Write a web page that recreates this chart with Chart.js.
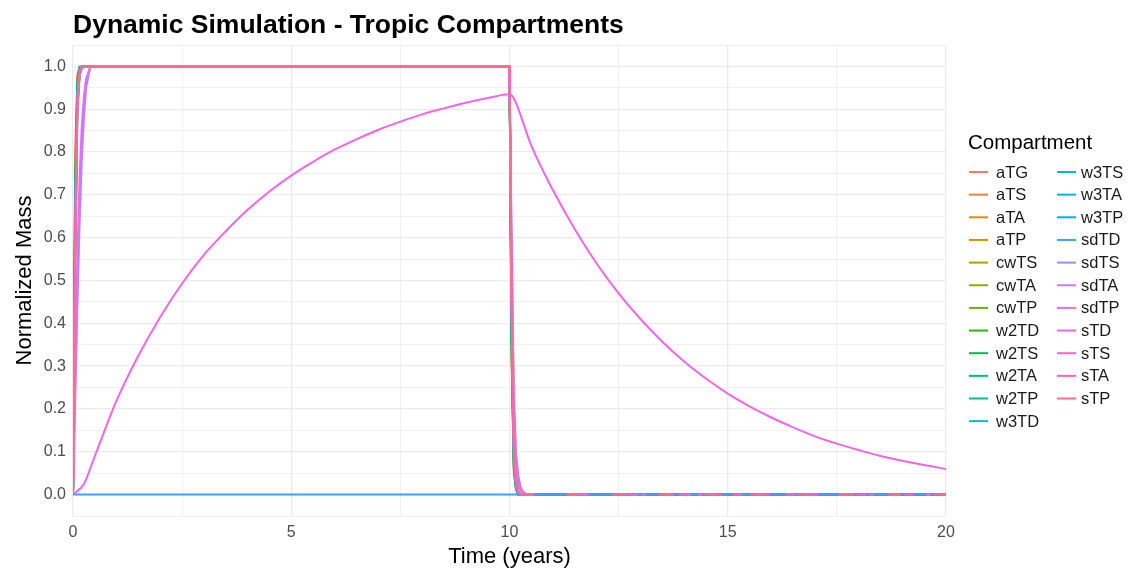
<!DOCTYPE html>
<html>
<head>
<meta charset="utf-8">
<script src="https://cdn.jsdelivr.net/npm/chart.js@4.4.0/dist/chart.umd.min.js"></script>
<style>
    html, body { margin: 0; padding: 0; background: #fff; }
    #wrap { width: 1134px; height: 570px; position: relative; }
</style>
</head>
<body>
<div id="wrap"><canvas id="simChart"></canvas></div>
<script>
// Compartiments (ordre de la légende)
const compartments = ['aTG', 'aTS', 'aTA', 'aTP', 'cwTS', 'cwTA', 'cwTP', 'w2TD', 'w2TS', 'w2TA', 'w2TP', 'w3TD',
    'w3TS', 'w3TA', 'w3TP', 'sdTD', 'sdTS', 'sdTA', 'sdTP', 'sTD', 'sTS', 'sTA', 'sTP'];

// Temps pour les compartiments rapides (années)
const fastTime = [0, 0.05, 0.1, 0.15, 0.2, 0.25, 0.3, 0.4, 10, 10.05, 10.1, 10.15, 10.2, 10.25, 10.3, 10.4, 20];

const aTG  = [0, 0.80, 0.98, 1, 1, 1, 1, 1, 1, 0.30, 0.05, 0.01, 0, 0, 0, 0, 0];
const aTS  = [0, 0.72, 0.96, 0.995, 1, 1, 1, 1, 1, 0.34, 0.07, 0.015, 0, 0, 0, 0, 0];
const aTA  = [0, 0.66, 0.94, 0.99, 1, 1, 1, 1, 1, 0.38, 0.08, 0.02, 0.005, 0, 0, 0, 0];
const aTP  = [0, 0.62, 0.93, 0.99, 1, 1, 1, 1, 1, 0.40, 0.09, 0.02, 0.005, 0, 0, 0, 0];
const cwTS = [0, 0.60, 0.92, 0.985, 0.998, 1, 1, 1, 1, 0.42, 0.10, 0.025, 0.006, 0, 0, 0, 0];
const cwTA = [0, 0.58, 0.91, 0.98, 0.997, 1, 1, 1, 1, 0.44, 0.11, 0.03, 0.007, 0, 0, 0, 0];
const cwTP = [0, 0.55, 0.90, 0.98, 0.996, 1, 1, 1, 1, 0.46, 0.12, 0.03, 0.008, 0, 0, 0, 0];
const w2TD = [0, 0.74, 0.97, 0.998, 1, 1, 1, 1, 1, 0.32, 0.06, 0.012, 0, 0, 0, 0, 0];
const w2TS = [0, 0.68, 0.95, 0.995, 1, 1, 1, 1, 1, 0.36, 0.07, 0.015, 0.003, 0, 0, 0, 0];
const w2TA = [0, 0.64, 0.94, 0.99, 1, 1, 1, 1, 1, 0.39, 0.08, 0.02, 0.004, 0, 0, 0, 0];
const w2TP = [0, 0.61, 0.93, 0.99, 1, 1, 1, 1, 1, 0.41, 0.09, 0.022, 0.005, 0, 0, 0, 0];
const w3TD = [0, 0.70, 0.96, 0.997, 1, 1, 1, 1, 1, 0.33, 0.06, 0.013, 0, 0, 0, 0, 0];
const w3TS = [0, 0.63, 0.93, 0.99, 1, 1, 1, 1, 1, 0.40, 0.09, 0.02, 0.005, 0, 0, 0, 0];
const w3TA = [0, 0.59, 0.91, 0.985, 0.997, 1, 1, 1, 1, 0.43, 0.10, 0.026, 0.006, 0, 0, 0, 0];
const w3TP = [0, 0.56, 0.90, 0.98, 0.996, 1, 1, 1, 1, 0.45, 0.11, 0.03, 0.007, 0, 0, 0, 0];
const sdTD = [0, 0, 0, 0, 0, 0, 0, 0, 0, 0, 0, 0, 0, 0, 0, 0, 0];
const sdTS = [0, 0.25, 0.48, 0.68, 0.82, 0.91, 0.97, 1, 1, 0.55, 0.20, 0.08, 0.035, 0.015, 0.005, 0, 0];
const sdTA = [0, 0.22, 0.44, 0.63, 0.78, 0.88, 0.95, 1, 1, 0.60, 0.24, 0.10, 0.045, 0.02, 0.008, 0, 0];
const sdTP = [0, 0.30, 0.55, 0.74, 0.86, 0.93, 0.97, 1, 1, 0.50, 0.17, 0.06, 0.025, 0.01, 0.004, 0, 0];
const sTS  = [0, 0.63, 0.93, 0.99, 1, 1, 1, 1, 1, 0.40, 0.09, 0.02, 0.005, 0, 0, 0, 0];
const sTA  = [0, 0.58, 0.91, 0.985, 0.997, 1, 1, 1, 1, 0.43, 0.10, 0.025, 0.006, 0, 0, 0, 0];
const sTP  = [0, 0.54, 0.89, 0.98, 0.996, 1, 1, 1, 1, 0.46, 0.12, 0.03, 0.008, 0, 0, 0, 0];

// Compartiment lent (sTD)
const slowTime = [0, 0.25, 0.5, 1, 1.5, 2, 2.5, 3, 3.5, 4, 4.5, 5, 5.5, 6, 6.5, 7, 7.5, 8, 8.5, 9, 9.5, 10,
    10.1, 10.5, 11, 11.5, 12, 12.5, 13, 13.5, 14, 14.5, 15, 15.5, 16, 16.5, 17, 17.5, 18, 18.5, 19, 19.5, 20];
const sTD = [0, 0.025, 0.09, 0.22, 0.325, 0.415, 0.493, 0.56, 0.615, 0.665, 0.708, 0.745, 0.777, 0.806, 0.830,
    0.852, 0.871, 0.888, 0.902, 0.915, 0.926, 0.935,
    0.925, 0.815, 0.710, 0.619, 0.539, 0.470, 0.410, 0.357, 0.311, 0.271, 0.236, 0.206, 0.180, 0.157,
    0.136, 0.119, 0.104, 0.090, 0.079, 0.069, 0.060];

const seriesValues = {
    aTG, aTS, aTA, aTP, cwTS, cwTA, cwTP, w2TD, w2TS, w2TA, w2TP, w3TD,
    w3TS, w3TA, w3TP, sdTD, sdTS, sdTA, sdTP, sTD, sTS, sTA, sTP
};

const xTicks = [0, 5, 10, 15, 20];
const yTicks = [0, 0.1, 0.2, 0.3, 0.4, 0.5, 0.6, 0.7, 0.8, 0.9, 1.0];

// Palette ggplot (hcl, c = 100, l = 65)
function hcl(h, c, l) {
    const rad = h * Math.PI / 180;
    const u = c * Math.cos(rad);
    const v = c * Math.sin(rad);
    const Y = l > 8 ? Math.pow((l + 16) / 116, 3) : l / 903.3;
    const Xn = 0.95047, Yn = 1.0, Zn = 1.08883;
    const un = 4 * Xn / (Xn + 15 * Yn + 3 * Zn);
    const vn = 9 * Yn / (Xn + 15 * Yn + 3 * Zn);
    const up = u / (13 * l) + un;
    const vp = v / (13 * l) + vn;
    const X = Y * 9 * up / (4 * vp);
    const Z = Y * (12 - 3 * up - 20 * vp) / (4 * vp);
    const lin = [
        3.2404542 * X - 1.5371385 * Y - 0.4985314 * Z,
        -0.9692660 * X + 1.8760108 * Y + 0.0415560 * Z,
        0.0556434 * X - 0.2040259 * Y + 1.0572252 * Z
    ];
    const hex = lin.map(c0 => {
        let g = c0 <= 0.0031308 ? 12.92 * c0 : 1.055 * Math.pow(c0, 1 / 2.4) - 0.055;
        g = Math.max(0, Math.min(1, g));
        return Math.round(g * 255).toString(16).padStart(2, '0');
    });
    return '#' + hex.join('');
}

const colors = compartments.map((_, i) => hcl(15 + i * 360 / compartments.length, 100, 65));

// Séries dont le plateau final à zéro est en tirets (le bleu de sdTD reste visible)
const dashedTail = { sdTS: [6, 40], sdTA: [8, 44], sdTP: [5, 52], sTS: [10, 38], sTA: [7, 46], sTP: [12, 34] };

const datasets = compartments.map((name, i) => {
    const times = name === 'sTD' ? slowTime : fastTime;
    const tail = dashedTail[name];
    return {
        label: name,
        data: times.map((t, k) => ({ x: t, y: seriesValues[name][k] })),
        borderColor: colors[i],
        backgroundColor: colors[i],
        borderWidth: 2,
        borderDash: [],
        segment: tail ? {
            borderDash: c => (c.p0.parsed.x >= 10 && c.p0.parsed.y === 0 && c.p1.parsed.y === 0) ? tail : undefined
        } : {},
        pointRadius: 0,
        cubicInterpolationMode: name === 'sTD' ? 'monotone' : 'default',
        tension: 0,
        fill: false,
        order: compartments.length - i
    };
});

const FONT = '"Liberation Sans", Arial, sans-serif';

// Titre + légende dessinés à la main
const decorPlugin = {
    id: 'decor',
    afterDraw(chart) {
        const ctx = chart.ctx;
        ctx.save();
        ctx.fillStyle = '#000';
        ctx.textBaseline = 'alphabetic';
        ctx.textAlign = 'left';
        ctx.font = 'bold 26.5px ' + FONT;
        ctx.fillText('Dynamic Simulation - Tropic Compartments', 73, 33);

        ctx.font = '20.5px ' + FONT;
        ctx.textBaseline = 'middle';
        ctx.fillText('Compartment', 968, 143);

        ctx.font = '16.5px ' + FONT;
        const rowH = 22.65;
        compartments.forEach((name, i) => {
            const col = i < 12 ? 0 : 1;
            const row = col === 0 ? i : i - 12;
            const y = 172 + row * rowH;
            const x0 = col === 0 ? 969 : 1057;
            ctx.strokeStyle = colors[i];
            ctx.lineWidth = 2;
            ctx.beginPath();
            ctx.moveTo(x0, y);
            ctx.lineTo(x0 + 19, y);
            ctx.stroke();
            ctx.fillStyle = '#1a1a1a';
            ctx.fillText(name, col === 0 ? 996 : 1081, y + 1);
        });
        ctx.restore();
    }
};

function isMajorY(v) {
    return yTicks.some(t => Math.abs(t - v) < 1e-6);
}
function isMajorX(v) {
    return xTicks.some(t => Math.abs(t - v) < 1e-6);
}

new Chart(document.getElementById('simChart'), {
    type: 'line',
    data: { datasets },
    plugins: [decorPlugin],
    options: {
        responsive: true,
        maintainAspectRatio: false,
        animation: false,
        layout: { padding: { left: 0, right: 188, top: 45, bottom: 0 } },
        plugins: {
            legend: { display: false },
            title: { display: false },
            tooltip: { enabled: false }
        },
        scales: {
            x: {
                type: 'linear',
                min: 0,
                max: 20,
                afterFit: s => { s.height = 54; },
                border: { display: false },
                grid: {
                    drawTicks: false,
                    color: '#EBEBEB',
                    lineWidth: c => (c.tick && isMajorX(c.tick.value)) ? 1.3 : 0.7
                },
                ticks: {
                    stepSize: 2.5,
                    autoSkip: false,
                    maxRotation: 0,
                    padding: 7,
                    color: '#4D4D4D',
                    font: { family: FONT, size: 16 },
                    callback: v => isMajorX(v) ? String(Math.round(v)) : ''
                },
                title: {
                    display: true,
                    text: 'Time (years)',
                    color: '#000',
                    font: { family: FONT, size: 22 },
                    padding: { top: 0, bottom: 0 }
                }
            },
            y: {
                min: -0.05,
                max: 1.05,
                afterFit: s => { s.width = 73; },
                border: { display: false },
                grid: {
                    drawTicks: false,
                    color: '#EBEBEB',
                    lineWidth: c => (c.tick && isMajorY(c.tick.value)) ? 1.3 : 0.7
                },
                ticks: {
                    stepSize: 0.05,
                    autoSkip: false,
                    padding: 7,
                    color: '#4D4D4D',
                    font: { family: FONT, size: 16 },
                    callback: v => isMajorY(v) ? v.toFixed(1) : ''
                },
                title: {
                    display: true,
                    text: 'Normalized Mass',
                    color: '#000',
                    font: { family: FONT, size: 22 },
                    padding: { top: 12, bottom: 0 }
                }
            }
        }
    }
});
</script>
</body>
</html>
